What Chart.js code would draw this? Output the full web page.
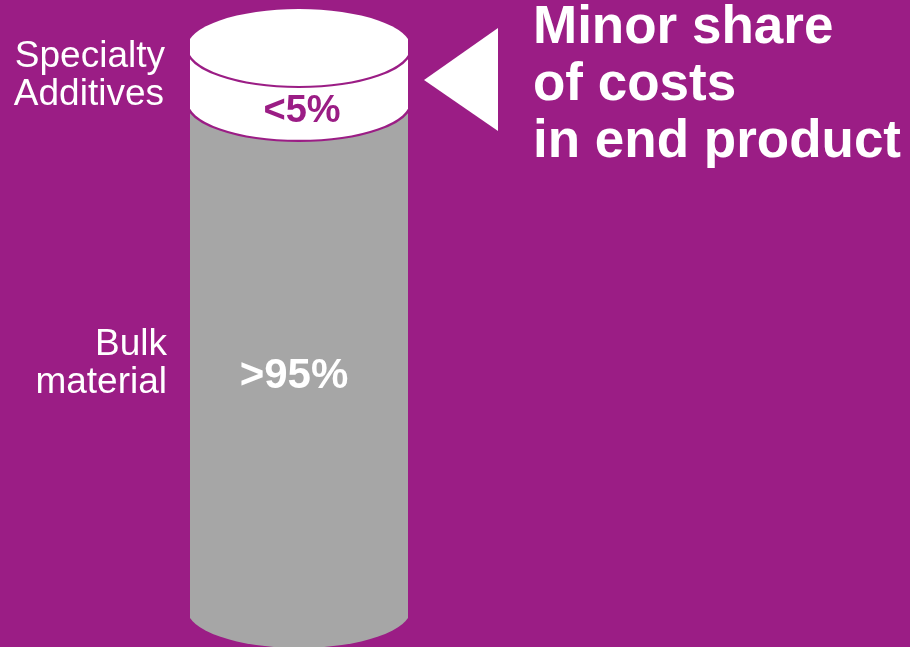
<!DOCTYPE html>
<html>
<head>
<meta charset="utf-8">
<script src="https://cdn.jsdelivr.net/npm/chart.js@4.4.1/dist/chart.umd.min.js"></script>
<style>
  html, body { margin: 0; padding: 0; background: #9b1d85; }
  #cyl { display: block; }
</style>
</head>
<body>
<canvas id="cyl" width="910" height="647"></canvas>
<script>
const PURPLE = '#9b1d85';
const GREY = '#a6a6a6';

// cost split of the end product, in percent
const segments = ['Bulk material', 'Specialty Additives'];
const shares = [95, 5];
const shareLabels = ['>95%', '<5%'];
const sideLabels = [['Bulk', 'material'], ['Specialty', 'Additives']];
const headline = ['Minor share', 'of costs', 'in end product'];

const FONT = '"Liberation Sans", Arial, Helvetica, sans-serif';

// turns the stacked bar into a cylinder: elliptic bottom, ring line, lid
const cylinder = {
  id: 'cylinder',
  afterDatasetsDraw(chart) {
    const c = chart.ctx;
    const bulk = chart.getDatasetMeta(0).data[0];
    const top = chart.getDatasetMeta(1).data[0];
    const x0 = bulk.x - bulk.width / 2, x1 = bulk.x + bulk.width / 2;
    const rx = bulk.width / 2 + 3, ry = 39;
    const base = chart.chartArea.bottom;

    c.save();
    c.beginPath();
    c.rect(x0, 0, x1 - x0, chart.height);
    c.clip();

    // bottom of the bulk part
    c.beginPath();
    c.ellipse(bulk.x, base, rx, ry, 0, 0, Math.PI);
    c.fillStyle = GREY;
    c.fill();

    // additives ring with its lower rim (hides the seam between the two bars)
    c.fillStyle = '#ffffff';
    c.fillRect(x0, top.y, x1 - x0, top.base - top.y + 1);
    c.beginPath();
    c.ellipse(top.x, top.base, rx, ry, 0, 0, Math.PI);
    c.fill();
    c.beginPath();
    c.ellipse(top.x, top.base, rx, ry, 0, 0, Math.PI);
    c.strokeStyle = PURPLE;
    c.lineWidth = 2.2;
    c.stroke();

    // lid
    c.beginPath();
    c.ellipse(top.x, top.y, rx, ry, 0, 0, Math.PI * 2);
    c.fillStyle = '#ffffff';
    c.fill();
    c.beginPath();
    c.ellipse(top.x, top.y, rx, ry, 0, 0, Math.PI);
    c.strokeStyle = PURPLE;
    c.lineWidth = 2.2;
    c.stroke();
    c.restore();

    // value labels
    c.save();
    c.textAlign = 'center';
    c.textBaseline = 'alphabetic';
    c.font = 'bold 42px ' + FONT;
    c.fillStyle = '#ffffff';
    c.fillText(shareLabels[0], bulk.x - 5, 388);
    c.font = 'bold 38px ' + FONT;
    c.fillStyle = PURPLE;
    c.fillText(shareLabels[1], top.x + 3, 122);

    // segment names on the left
    c.textAlign = 'right';
    c.font = '37px ' + FONT;
    c.fillStyle = '#ffffff';
    c.fillText(sideLabels[1][0], x0 - 25, 67);
    c.fillText(sideLabels[1][1], x0 - 26, 105);
    c.fillText(sideLabels[0][0], x0 - 23, 355);
    c.fillText(sideLabels[0][1], x0 - 23, 393);

    // arrow pointing at the ring
    c.beginPath();
    c.moveTo(x1 + 16, 80);
    c.lineTo(x1 + 90, 28);
    c.lineTo(x1 + 90, 131);
    c.closePath();
    c.fill();

    // headline
    c.textAlign = 'left';
    c.font = 'bold 53px ' + FONT;
    headline.forEach((t, i) => c.fillText(t, 533, 43 + i * 57));
    c.restore();
  }
};

new Chart(document.getElementById('cyl'), {
  type: 'bar',
  data: {
    labels: [''],
    datasets: [
      { label: segments[0], data: [shares[0]], backgroundColor: GREY, borderWidth: 0 },
      { label: segments[1], data: [shares[1]], backgroundColor: '#ffffff', borderWidth: 0 }
    ]
  },
  options: {
    responsive: false,
    animation: false,
    layout: { padding: { left: 190, right: 502, top: 48, bottom: 38 } },
    datasets: { bar: { barPercentage: 1, categoryPercentage: 1 } },
    scales: {
      x: { stacked: true, display: false },
      y: { stacked: true, display: false, min: 48, max: 100 }
    },
    plugins: { legend: { display: false }, tooltip: { enabled: false } }
  },
  plugins: [cylinder]
});
</script>
</body>
</html>
